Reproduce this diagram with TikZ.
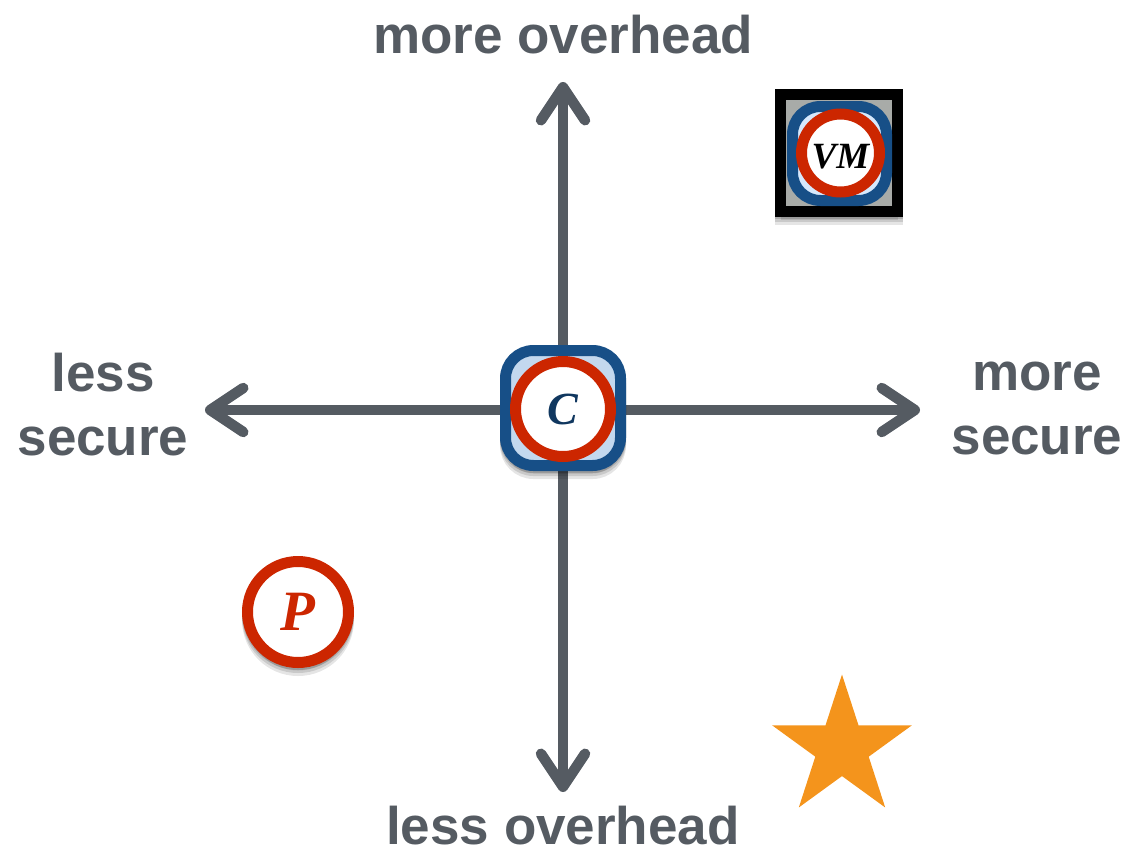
\documentclass[tikz,border=0pt]{standalone}
\usepackage{fontspec}
\setmainfont{Liberation Sans}
\newfontfamily\labelfont{Liberation Serif}
\usetikzlibrary{positioning,shapes.geometric,arrows.meta,shadows}
\definecolor{axisgray}{HTML}{555B62}
\definecolor{procred}{HTML}{CC2600}
\definecolor{contblue}{HTML}{174F87}
\definecolor{contfill}{HTML}{C3D8EE}
\definecolor{vmfill}{HTML}{D6E8FC}
\definecolor{vmgray}{HTML}{A8ABA8}
\definecolor{starorange}{HTML}{F4941C}
\tikzset{
  x=1pt,y=-1pt,
  axis/.style={draw=axisgray,line width=10.5pt,-{Straight Barb[round,length=33pt,width=44pt,line width=10.5pt]}},
  axislabel/.style={text=axisgray,font=\fontsize{53}{64}\selectfont\bfseries,align=center,inner sep=0pt},
  softshadow/.style={general shadow={fill=black,draw=black,opacity=.1,shadow xshift=0pt,shadow yshift=-8pt},general shadow={fill=black,draw=black,opacity=.12,shadow xshift=0pt,shadow yshift=-5pt},general shadow={fill=black,draw=black,opacity=.15,shadow xshift=0pt,shadow yshift=-2pt}},
  proc/.style={draw=procred,circle,fill=white,line width=11pt,minimum size=#1,inner sep=0pt,font=\fontsize{46}{46}\selectfont\labelfont\bfseries\itshape},
  cont/.style={draw=contblue,rounded corners=28pt,fill=contfill,line width=11pt,minimum size=#1,inner sep=0pt},
}
\begin{document}
\begin{tikzpicture}
\useasboundingbox (0,0) rectangle (1130,854);
\coordinate (center) at (563,410);
\coordinate (top) at (563,82);
\coordinate (bottom) at (563,792);
\coordinate (left) at (205,410);
\coordinate (right) at (920,410);
\draw[axis] (center) -- (top);
\draw[axis] (center) -- (bottom);
\draw[axis] (center) -- (left);
\draw[axis] (center) -- (right);
% labels
\node[axislabel] (lmore) at (563,35) {more overhead};
\node[axislabel] (lless) at (563,826) {less overhead};
\node[axislabel] (lleft) at (103,405) {less\\secure};
\node[axislabel] (lright) at (1037,408) {more\\secure};
% container
\node[cont=115pt,softshadow] (cbox) at (563,408) {};
\node[proc=95pt,text=contblue!70!black] (cc) at (563,409) {C};
% vm
\node[draw=black,fill=vmgray,line width=11pt,minimum size=117pt,softshadow,inner sep=0pt] (vmbox) at (839,153) {};
\node[cont=94pt,fill=vmfill] (vmcont) at (839.5,153.5) {};
\node[proc=78pt,text=black,font=\fontsize{37}{37}\selectfont\labelfont\bfseries\itshape,text height=31pt] (vm) at (840.5,153) {VM};
% process
\node[proc=101pt,text=procred,font=\fontsize{57}{57}\selectfont\labelfont\bfseries\itshape,softshadow] (pp) at (298,612) {P};
% star
\node[star,star points=5,star point ratio=2.618,fill=starorange,minimum size=147pt,inner sep=0pt] (st) at (842,748) {};
\end{tikzpicture}
\end{document}
